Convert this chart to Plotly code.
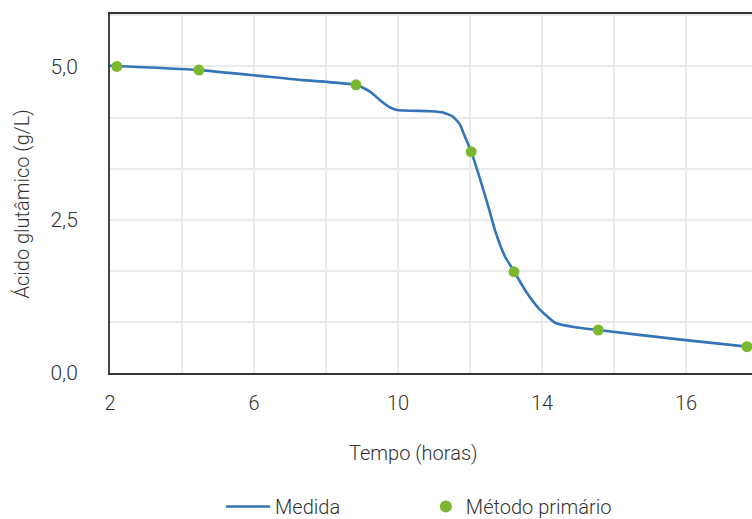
import plotly.graph_objects as go

# Measured curve ("Medida")
medida_x = [2.0, 4.47, 7.28, 8.83, 9.22, 9.5, 9.78, 9.97, 10.89, 11.25, 11.53, 11.72, 11.86,
            12.03, 12.51, 12.69, 12.97, 13.23, 13.53, 13.90, 14.36, 14.92, 15.56, 17.92, 19.69, 19.83]
medida_y = [5.01, 4.94, 4.78, 4.70, 4.59, 4.45, 4.33, 4.29, 4.27, 4.25, 4.18, 4.05, 3.85,
            3.61, 2.71, 2.33, 1.90, 1.65, 1.35, 1.06, 0.82, 0.745, 0.70, 0.54, 0.43, 0.42]

# Primary method points ("Método primário")
primario_x = [2.19, 4.47, 8.83, 12.03, 13.22, 15.56, 19.69]
primario_y = [5.00, 4.94, 4.70, 3.61, 1.65, 0.70, 0.43]

x_tickvals = [2, 4, 6, 8, 10, 12, 14, 16, 18]
x_ticktext = ["2", "", "6", "", "10", "", "14", "", "16"]
y_tickvals = [0, 0.8333, 1.6667, 2.5, 3.3333, 4.1667, 5.0, 5.8333]
y_ticktext = ["0,0", "", "", "2,5", "", "", "5,0", ""]

FONT = "Roboto, Liberation Sans, Arial, sans-serif"
TXT = "#333333"


def f(size):
    return dict(family=FONT, size=size, color=TXT, weight=300)


fig = go.Figure()
fig.add_trace(go.Scatter(
    x=medida_x, y=medida_y, mode="lines", name="Medida",
    line=dict(color="#3474b8", width=2.6, shape="spline", smoothing=0.5),
    cliponaxis=False, legend="legend",
))
fig.add_trace(go.Scatter(
    x=primario_x, y=primario_y, mode="markers", name="Método primário",
    marker=dict(color="#7cb82f", size=11),
    cliponaxis=False, legend="legend2",
))

LEG_Y = -0.372

fig.update_layout(
    width=752, height=519,
    margin=dict(l=110, r=0, t=14, b=146, autoexpand=False),
    paper_bgcolor="white", plot_bgcolor="white",
    font=f(20),
    showlegend=True,
    legend=dict(
        orientation="h", x=0.173, xanchor="left", y=LEG_Y, yanchor="middle",
        font=f(20), bgcolor="rgba(0,0,0,0)", itemwidth=44,
    ),
    legend2=dict(
        orientation="h", x=0.492, xanchor="left", y=LEG_Y, yanchor="middle",
        font=f(20), bgcolor="rgba(0,0,0,0)", itemwidth=30, itemsizing="constant",
    ),
    xaxis=dict(
        range=[2, 19.83], tickvals=x_tickvals, ticktext=x_ticktext,
        showgrid=True, gridcolor="#ebebeb", gridwidth=1.5,
        showline=True, linecolor="#333333", linewidth=2, mirror=True,
        ticks="outside", ticklen=11, tickcolor="rgba(0,0,0,0)", zeroline=False,
        tickfont=f(20),
    ),
    yaxis=dict(
        range=[0, 5.855], tickvals=y_tickvals, ticktext=y_ticktext,
        showgrid=True, gridcolor="#ebebeb", gridwidth=1.5,
        showline=True, linecolor="#444444", linewidth=2, mirror=False,
        ticks="outside", ticklen=26, tickcolor="rgba(0,0,0,0)", zeroline=False,
        tickfont=f(21),
    ),
    annotations=[
        dict(text="Tempo (horas)", xref="paper", yref="paper", x=0.472, y=-0.223,
             showarrow=False, font=f(20), xanchor="center", yanchor="middle"),
        dict(text="Ácido glutâmico (g/L)", xref="paper", yref="paper",
             x=(21 - 110) / 642, y=(373 - 204.5) / 359, textangle=-90,
             showarrow=False, font=f(20), xanchor="center", yanchor="middle"),
    ],
)

fig.write_html("out.html", config={"displayModeBar": False},
               post_script="document.body.style.margin='0px';")
